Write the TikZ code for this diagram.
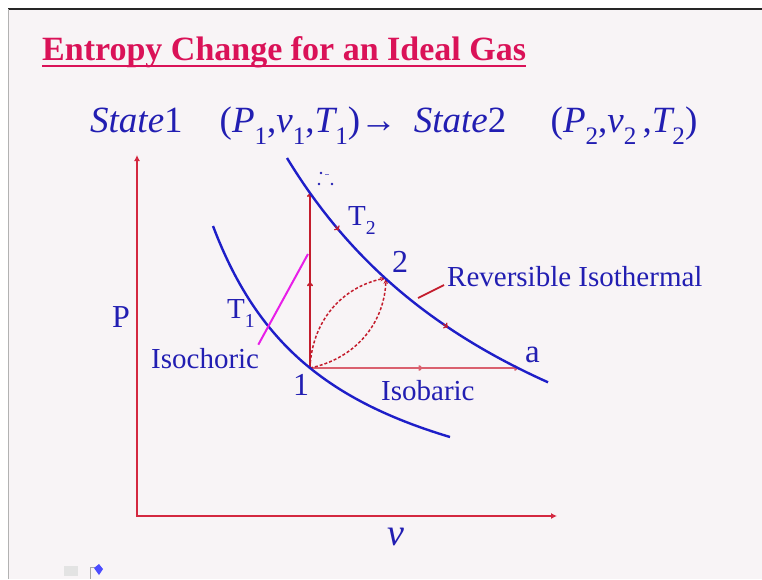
\documentclass[tikz,border=0pt]{standalone}
\usepackage{fontspec}
\setmainfont{Liberation Serif}
\usetikzlibrary{arrows.meta,decorations.markings}

\definecolor{slidebg}{RGB}{248,244,246}
\definecolor{titlered}{RGB}{218,18,88}
\definecolor{txtblue}{RGB}{34,30,178}
\definecolor{curveblue}{RGB}{30,30,200}
\definecolor{axisred}{RGB}{212,40,64}
\definecolor{pathred}{RGB}{196,28,44}
\definecolor{barred}{RGB}{218,96,110}
\definecolor{chorpink}{RGB}{232,30,232}

\newcommand{\lowsub}[1]{\raisebox{-0.33em}{\scalebox{0.68}{#1}}}

\tikzset{
  lbl/.style={text=txtblue, inner sep=0pt, anchor=base west, font=\fontsize{29}{34}\selectfont},
  isotherm/.style={curveblue, line width=2.4pt, samples=80},
  midarrow/.style={postaction={decorate}, decoration={markings, mark=at position #1 with {\arrow{To[length=4pt,width=6pt]}}}},
}

\begin{document}
\begin{tikzpicture}[x=1pt, y=-1pt]
    \useasboundingbox (0,0) rectangle (762,579);
    % slide
    \fill[slidebg] (8,9) rectangle (762,579);
    \draw[black!85, line width=1.6pt] (8,9) -- (762,9);
    \draw[gray!60, line width=1pt] (8,9) -- (8,579);

    % title
    \node[lbl, text=titlered, font=\fontsize{34}{40}\selectfont\bfseries] (title) at (42,60) {Entropy Change for an Ideal Gas};
    \draw[titlered, line width=2.2pt] ([yshift=-6pt]title.base west) -- ([yshift=-6pt]title.base east);

    % states
    \node[lbl, font=\fontsize{37}{44}\selectfont] (states) at (90,132) {{\itshape State}1\quad({\itshape P}\lowsub{1},{\itshape v}\lowsub{1},{\itshape T}\lowsub{1})→\hspace{0.45em}{\itshape State}2\hspace{1.2em}({\itshape P}\lowsub{2},{\itshape v}\lowsub{2}\,,{\itshape T}\lowsub{2})};

    % axes
    \coordinate (o) at (137,516);
    \coordinate (ytop) at (137,155);
    \coordinate (xend) at (557,516);
    \draw[axisred, line width=2.8pt, {Latex[length=6pt,width=6pt]}-{Latex[length=6pt,width=6pt]}] (ytop) -- (o) -- (xend);
    \node[lbl, font=\fontsize{32}{38}\selectfont] (plbl) at (112,327) {P};
    \node[lbl, font=\fontsize{38}{44}\selectfont\itshape] (vlbl) at (387,545) {v};

    % states on the diagram
    \coordinate (p1) at (310,368);
    \coordinate (p2) at (386,278);
    \coordinate (pa) at (518,368);
    \coordinate (pb) at (310,193);

    % processes
    \draw[pathred, line width=1.6pt, midarrow=0.49, -{To[length=4pt,width=6pt]}] (p1) -- (pb);
    \draw[barred, line width=2pt, midarrow=0.54, -{To[length=4pt,width=6pt]}] (p1) -- (pa);
    \draw[pathred, line width=1.5pt, densely dashed, -{Stealth[length=6pt]}] (p1) to[bend left=38] (p2);
    \draw[pathred, line width=1.5pt, densely dashed, -{Stealth[length=6pt]}] (p1) to[bend right=38] (p2);

    % isotherms
    \draw[isotherm, domain=213:450] plot (\x, {544.1 - 382.68/(\x/100-0.927)});
    \draw[isotherm, domain=287:548] plot (\x, {627.6 - 1340.68/(\x/100-0.015)});
    \draw[pathred, line width=1.2pt, -{To[length=4pt,width=7pt]}] (335.5,226.3) -- (339,230.4);
    \draw[pathred, line width=1.2pt, -{To[length=4pt,width=7pt]}] (443,324) -- (448,327.4);

    % labels
    \node[lbl] (t1) at (227,318) {T\lowsub{1}};
    \node[lbl] (t2) at (348,225) {T\lowsub{2}};
    \node[lbl, font=\fontsize{32}{38}\selectfont] (n2) at (392,272) {2};
    \node[lbl, font=\fontsize{32}{38}\selectfont] (n1) at (293,395) {1};
    \node[lbl, font=\fontsize{33}{38}\selectfont] (na) at (525,362) {a};
    \node[lbl] (isobar) at (381,400) {Isobaric};
    \node[lbl] (isoch) at (151,368) {Isochoric};
    \node[lbl] (rev) at (447,286) {Reversible Isothermal};

    % leaders
    \coordinate (chorend) at (308,254);
    \draw[chorpink, line width=2pt] ([xshift=-1pt,yshift=3pt]isoch.north east) -- (chorend);
    \coordinate (revtail) at (418,298);
    \draw[pathred, line width=1.8pt] (revtail) -- ([xshift=-3pt,yshift=1pt]rev.base west);

    % dots near the top
    \fill[txtblue] (321,173) circle (1.3pt) (319,184) circle (1.3pt) (332,184) circle (1.3pt);
    \draw[txtblue!60, line width=0.8pt] (325,174) -- (329,174);

    % corner icons
    \fill[gray!22] (64,566) rectangle (78,576);
    \draw[gray!70, line width=0.8pt] (90,579) -- (90,567) -- (97,567);
    \fill[blue!70] (94,568) -- (99,564) -- (103,569) -- (99,575) -- cycle;
\end{tikzpicture}
\end{document}
